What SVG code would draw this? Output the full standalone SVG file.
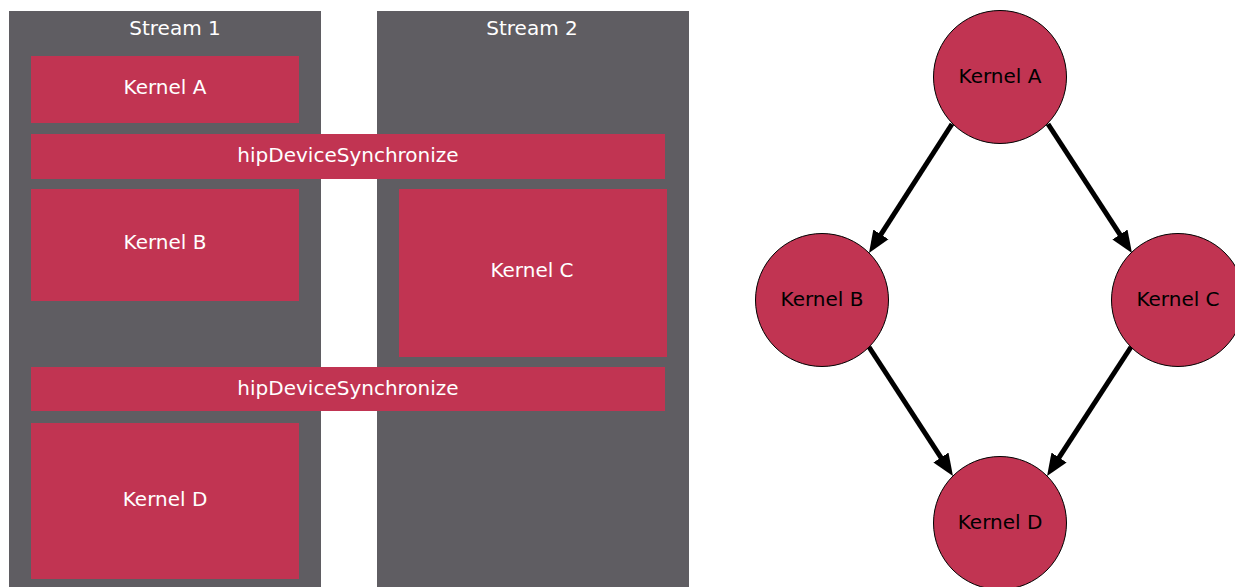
<svg xmlns="http://www.w3.org/2000/svg" width="1235" height="587" viewBox="0 0 1235 587">
  <style>
    .stream { fill: #5f5d62; }
    .block { fill: #c13452; }
    .lbl { font-family: "DejaVu Sans", "Liberation Sans", sans-serif; font-size: 20px; text-anchor: middle; }
    .light { fill: #ffffff; }
    .dark { fill: #000000; }
    .node { fill: #c13452; stroke: #000000; stroke-width: 1; }
    .edge { stroke: #000000; stroke-width: 5; fill: none; marker-end: url(#head); }
  </style>
  <defs>
    <marker id="head" markerUnits="userSpaceOnUse" markerWidth="24" markerHeight="20" viewBox="0 -10 24 20" refX="10" refY="0" orient="auto">
      <path d="M0,-9 L22,0 L0,9 Z" fill="#000000"/>
    </marker>
  </defs>

  <rect width="1235" height="587" fill="#ffffff"/>

  <!-- stream timeline -->
  <g id="stream1">
    <rect class="stream" x="9" y="11" width="312" height="576"/>
    <text class="lbl light" x="175" y="35">Stream 1</text>
  </g>
  <g id="stream2">
    <rect class="stream" x="377" y="11" width="312" height="576"/>
    <text class="lbl light" x="532" y="35">Stream 2</text>
  </g>
  <g id="kernelA-block">
    <rect class="block" x="31" y="56" width="268" height="67"/>
    <text class="lbl light" x="165" y="94">Kernel A</text>
  </g>
  <g id="sync1">
    <rect class="block" x="31" y="134" width="634" height="45"/>
    <text class="lbl light" x="348" y="162">hipDeviceSynchronize</text>
  </g>
  <g id="kernelB-block">
    <rect class="block" x="31" y="189" width="268" height="112"/>
    <text class="lbl light" x="165" y="249">Kernel B</text>
  </g>
  <g id="kernelC-block">
    <rect class="block" x="399" y="189" width="268" height="168"/>
    <text class="lbl light" x="532" y="277">Kernel C</text>
  </g>
  <g id="sync2">
    <rect class="block" x="31" y="367" width="634" height="44"/>
    <text class="lbl light" x="348" y="395">hipDeviceSynchronize</text>
  </g>
  <g id="kernelD-block">
    <rect class="block" x="31" y="423" width="268" height="156"/>
    <text class="lbl light" x="165" y="506">Kernel D</text>
  </g>

  <!-- dependency graph -->
  <g id="edges">
    <line class="edge" x1="952" y1="124" x2="875.5" y2="242.9"/>
    <line class="edge" x1="1048" y1="124" x2="1125.4" y2="242.9"/>
    <line class="edge" x1="869" y1="347" x2="946.4" y2="465.9"/>
    <line class="edge" x1="1131" y1="347" x2="1053.6" y2="465.9"/>
  </g>
  <g id="nodeA">
    <circle class="node" cx="1000" cy="77" r="66.5"/>
    <text class="lbl dark" x="1000" y="83">Kernel A</text>
  </g>
  <g id="nodeB">
    <circle class="node" cx="822" cy="300" r="66.5"/>
    <text class="lbl dark" x="822" y="306">Kernel B</text>
  </g>
  <g id="nodeC">
    <circle class="node" cx="1178" cy="300" r="66.5"/>
    <text class="lbl dark" x="1178" y="306">Kernel C</text>
  </g>
  <g id="nodeD">
    <circle class="node" cx="1000" cy="523" r="66.5"/>
    <text class="lbl dark" x="1000" y="529">Kernel D</text>
  </g>
</svg>
